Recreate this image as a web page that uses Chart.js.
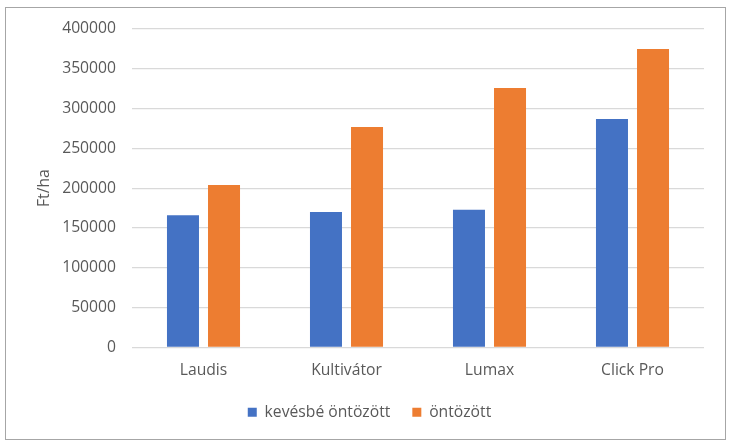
<!DOCTYPE html>
<html>
<head>
<meta charset="utf-8">
<script src="https://cdn.jsdelivr.net/npm/chart.js@4"></script>
<style>
  html, body { margin: 0; padding: 0; background: #fff; }
  #frame {
    position: absolute; left: 5px; top: 7px;
    width: 719px; height: 431px;
    border: 1px solid #a6a6a6;
  }
</style>
</head>
<body>
<div id="frame"><canvas id="chart" width="719" height="431"></canvas></div>
<script>
// adatok
const categories = ['Laudis', 'Kultivátor', 'Lumax', 'Click Pro']
const lessIrrigated = [166000, 170000, 173000, 287000]
const irrigated = [204000, 277000, 326000, 375000]
const seriesLabels = ['kevésbé öntözött', 'öntözött']

const textColor = '#595959'
const font = { family: '"Open Sans"', size: 15.7 }

new Chart(document.getElementById('chart').getContext('2d'), {
  type: 'bar',
  data: {
    labels: categories,
    datasets: [
      { label: seriesLabels[0], data: lessIrrigated, backgroundColor: '#4472C4', barPercentage: 0.78, categoryPercentage: 0.574 },
      { label: seriesLabels[1], data: irrigated, backgroundColor: '#ED7D31', barPercentage: 0.78, categoryPercentage: 0.574 }
    ]
  },
  options: {
    responsive: false,
    animation: false,
    layout: { padding: { top: 21, right: 21, bottom: 9, left: 29 } },
    plugins: {
      tooltip: { enabled: false },
      legend: {
        position: 'bottom',
        labels: { color: textColor, font: font, boxWidth: 9, boxHeight: 9, padding: 22 }
      }
    },
    scales: {
      x: {
        // fix height so the legend sits closer to the axis labels
        afterFit: scale => { scale.height = 35 },
        grid: { display: false, drawTicks: false },
        border: { display: false },
        ticks: { color: textColor, font: font, padding: 14 }
      },
      y: {
        min: 0,
        max: 400000,
        afterFit: scale => {
          scale.width = 97
          scale.paddingTop = 0
          scale.paddingBottom = 0
        },
        grid: { color: '#d9d9d9', lineWidth: 1.3, drawTicks: false },
        border: { display: false },
        ticks: { stepSize: 50000, color: textColor, font: font, padding: 16, callback: v => String(v) },
        title: { display: true, text: 'Ft/ha', color: textColor, font: font, padding: { top: 0, bottom: 0 } }
      }
    }
  }
})
</script>
</body>
</html>
